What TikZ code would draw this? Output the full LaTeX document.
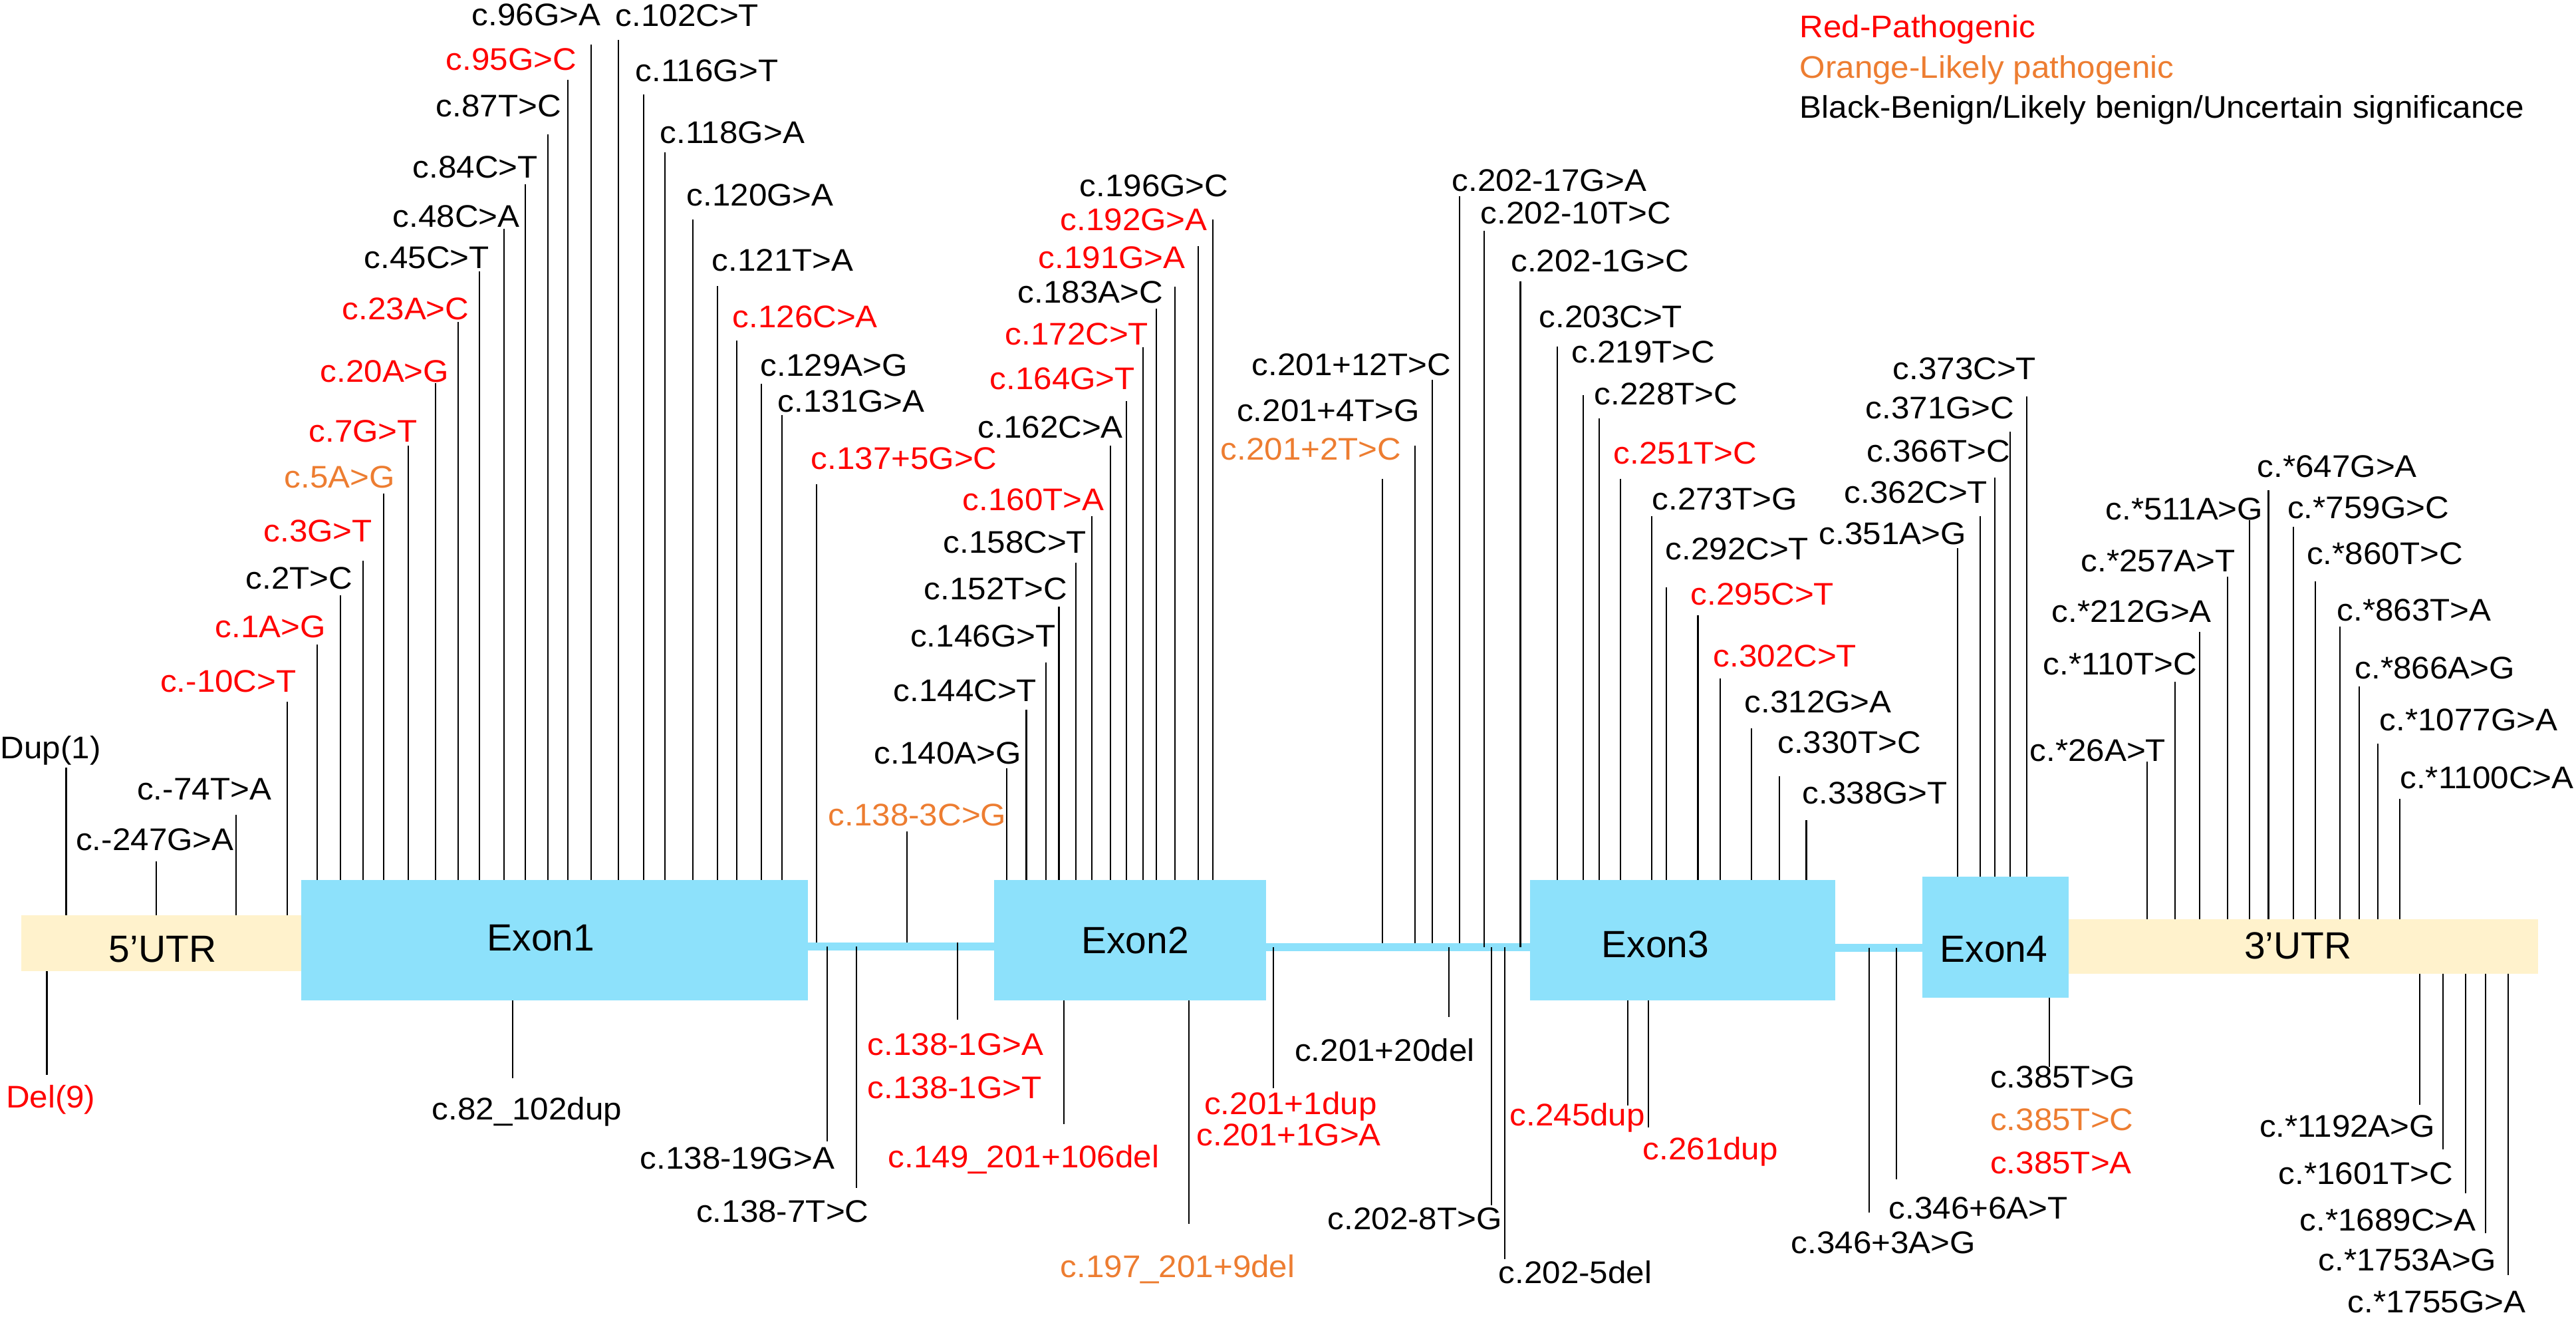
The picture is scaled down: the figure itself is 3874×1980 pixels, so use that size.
\documentclass[tikz,border=0pt]{standalone}
\usepackage{fontspec}
\setmainfont{Liberation Sans}
\newfontfamily\labfont{Liberation Sans}[FakeStretch=1.05]
\definecolor{exonblue}{HTML}{8DE1FB}
\definecolor{utrcream}{HTML}{FFF2CC}
\definecolor{orng}{HTML}{ED7D31}
\tikzset{
  box/.style={rectangle, draw=none, inner sep=0pt, outer sep=0pt, anchor=north west},
  lbl/.style={font=\labfont\fontsize{13.37pt}{15pt}\selectfont, inner sep=0pt, anchor=base west},
  exlbl/.style={font=\fontsize{16.2pt}{18pt}\selectfont, inner sep=0pt, anchor=base},
  vline/.style={line width=0.6pt, line cap=butt},
}
\begin{document}
\begin{tikzpicture}[x=0.01cm, y=-0.01cm]
\useasboundingbox (0,0) rectangle (3874,1980);
% gene structure
\node[box, fill=utrcream, minimum width=4.245cm, minimum height=0.84cm] (utr5) at (31.5,1376) {};
\node[box, fill=exonblue, minimum width=7.62cm, minimum height=1.81cm] (ex1) at (453,1323) {};
\node[box, fill=exonblue, minimum width=2.90cm, minimum height=0.12cm] (in1) at (1210,1417) {};
\node[box, fill=exonblue, minimum width=4.09cm, minimum height=1.81cm] (ex2) at (1495,1323) {};
\node[box, fill=exonblue, minimum width=4.07cm, minimum height=0.12cm] (in2) at (1900,1418) {};
\node[box, fill=exonblue, minimum width=4.59cm, minimum height=1.81cm] (ex3) at (2301,1323) {};
\node[box, fill=exonblue, minimum width=1.41cm, minimum height=0.12cm] (in3) at (2755,1419) {};
\node[box, fill=exonblue, minimum width=2.20cm, minimum height=1.82cm] (ex4) at (2891,1318) {};
\node[box, fill=utrcream, minimum width=7.06cm, minimum height=0.82cm] (utr3) at (3111,1382) {};
\node[exlbl] (lb5) at (244.5,1447) {5’UTR};
\node[exlbl] (lbe1) at (813.5,1430) {Exon1};
\node[exlbl] (lbe2) at (1707,1434) {Exon2};
\node[exlbl] (lbe3) at (2489.5,1440) {Exon3};
\node[exlbl] (lbe4) at (2998.5,1447) {Exon4};
\node[exlbl] (lb3) at (3456,1442) {3’UTR};
% variants above the gene
\foreach \x/\yt/\lx/\ly/\col/\tgt/\txt [count=\i] in {
  99.5/1154/0/1141/black/utr5.north/Dup(1),
  235/1295/113.6/1279/black/utr5.north/c.-247G>A,
  355/1225/205.6/1203/black/utr5.north/c.-74T>A,
  432/1055/240.5/1040.6/red/utr5.north/c.-10C>T,
  477/969/323/959/red/ex1.north/c.1A>G,
  512/895/369/886/black/ex1.north/c.2T>C,
  546/843/396/815/red/ex1.north/c.3G>T,
  577/742/427/734/orng/ex1.north/c.5A>G,
  614/670/464/665/red/ex1.north/c.7G>T,
  655/576/481/575/red/ex1.north/c.20A>G,
  689/484/514/481/red/ex1.north/c.23A>C,
  721/408/547/404/black/ex1.north/c.45C>T,
  758/344/590/341.5/black/ex1.north/c.48C>A,
  790/277/620/268/black/ex1.north/c.84C>T,
  824/202/655/176/black/ex1.north/c.87T>C,
  854/120/670/106/red/ex1.north/c.95G>C,
  889/67/709/39/black/ex1.north/c.96G>A,
  930/60/925/40/black/ex1.north/c.102C>T,
  968/142/955/123/black/ex1.north/c.116G>T,
  1000/229/992/216/black/ex1.north/c.118G>A,
  1042/330/1032/310/black/ex1.north/c.120G>A,
  1079/430/1070/408/black/ex1.north/c.121T>A,
  1108/512/1101/493/red/ex1.north/c.126C>A,
  1145/577/1143/566/black/ex1.north/c.129A>G,
  1176/624/1169/620/black/ex1.north/c.131G>A,
  1228/728/1219/706/red/in1.north/c.137+5G>C,
  1364/1250/1245/1241.5/orng/in1.north/c.138-3C>G,
  1514/1155/1314/1149/black/ex2.north/c.140A>G,
  1543.5/1067/1343/1055/black/ex2.north/c.144C>T,
  1572.6/996/1368.6/973/black/ex2.north/c.146G>T,
  1592.5/912.5/1389/902/black/ex2.north/c.152T>C,
  1618/846/1418/832/black/ex2.north/c.158C>T,
  1642/776/1447/768/red/ex2.north/c.160T>A,
  1669.6/670/1470/658.5/black/ex2.north/c.162C>A,
  1693.6/603/1488/585.7/red/ex2.north/c.164G>T,
  1719/522/1511/519/red/ex2.north/c.172C>T,
  1739/464/1530/456/black/ex2.north/c.183A>C,
  1766.6/431/1561/404/red/ex2.north/c.191G>A,
  1802/370/1594/347/red/ex2.north/c.192G>A,
  1824/330/1623/295.5/black/ex2.north/c.196G>C,
  2079/720.5/1835/692/orng/in2.north/c.201+2T>C,
  2128/670/1859.5/634/black/in2.north/c.201+4T>G,
  2154/571/1882/565/black/in2.north/c.201+12T>C,
  2195/295/2183/288/black/in2.north/c.202-17G>A,
  2232/347/2226/337/black/in2.center/c.202-10T>C,
  2286.5/423/2271.6/408.5/black/in2.center/c.202-1G>C,
  2342/521/2314/493/black/ex3.north/c.203C>T,
  2381/594/2363/545.5/black/ex3.north/c.219T>C,
  2405/629/2397/609/black/ex3.north/c.228T>C,
  2437/720/2426/698/red/ex3.north/c.251T>C,
  2484/776/2484/767/black/ex3.north/c.273T>G,
  2506/883/2504/842/black/ex3.north/c.292C>T,
  2553.5/925/2542/910/red/ex3.north/c.295C>T,
  2587/1020/2576/1003/red/ex3.north/c.302C>T,
  2634/1095/2623/1072/black/ex3.north/c.312G>A,
  2676/1167/2672.6/1133/black/ex3.north/c.330T>C,
  2716.5/1233/2710/1209/black/ex3.north/c.338G>T,
  2944/824/2735/818.7/black/ex4.north/c.351A>G,
  2977.6/776/2773/757/black/ex4.north/c.362C>T,
  2999.6/718/2807/694.6/black/ex4.north/c.366T>C,
  3023/649.5/2805/630/black/ex4.north/c.371G>C,
  3048/596/2846/571/black/ex4.north/c.373C>T,
  3229/1145.5/3052/1144.6/black/utr3.north/c.*26A>T,
  3271/1025/3072/1015/black/utr3.north/c.*110T>C,
  3308/950/3085/935.7/black/utr3.north/c.*212G>A,
  3350/867/3129/860/black/utr3.north/c.*257A>T,
  3382.6/782/3166/781.7/black/utr3.north/c.*511A>G,
  3411.5/737/3394/718/black/utr3.north/c.*647G>A,
  3449/792/3439.5/779.5/black/utr3.north/c.*759G>C,
  3481.6/874.5/3468.5/848.7/black/utr3.north/c.*860T>C,
  3519/942/3514/934/black/utr3.north/c.*863T>A,
  3548/1031.7/3541/1021/black/utr3.north/c.*866A>G,
  3576/1118/3578/1098.7/black/utr3.north/c.*1077G>A,
  3608.7/1201/3608.7/1185.7/black/utr3.north/c.*1100C>A}
{
  \coordinate (t\i) at (\x,\yt);
  \node[lbl, text=\col] (v\i) at (\lx,\ly) {\txt};
  \draw[vline] (t\i) -- (t\i |- \tgt);
}
% variants below the gene
\foreach \x/\yb/\lx/\ly/\col/\src/\txt [count=\i] in {
  70.5/1616/8.3/1666/red/utr5.south/Del(9),
  771/1621/649/1684/black/ex1.south/c.82\_102dup,
  1244/1716/962/1757.5/black/in1.center/c.138-19G>A,
  1288/1786/1046.5/1838/black/in1.center/c.138-7T>C,
  1440/1533/1304/1587/red/in1.north/c.138-1G>A,
  1600/1690/1335/1756/red/ex2.south/c.149\_201+106del,
  1788/1840/1594/1921/orng/ex2.south/c.197\_201+9del,
  1915/1636/1810.5/1676/red/in2.center/c.201+1dup,
  2179/1529/1946.5/1596/black/in2.center/c.201+20del,
  2243/1812/1996/1849/black/in2.center/c.202-8T>G,
  2263/1893/2253/1929/black/in2.center/c.202-5del,
  2448/1662/2270/1692.5/red/ex3.south/c.245dup,
  2479/1695/2470/1744/red/ex3.south/c.261dup,
  2811/1823/2693/1885/black/in3.center/c.346+3A>G,
  2852/1773.5/2840/1832.5/black/in3.center/c.346+6A>T,
  3082/1604/2992.5/1636/black/ex4.south/c.385T>G,
  3639/1661/3397.5/1710/black/utr3.south/c.*1192A>G,
  3674/1728.5/3426/1780.5/black/utr3.south/c.*1601T>C,
  3708/1794/3458/1850/black/utr3.south/c.*1689C>A,
  3738/1854/3486/1910.6/black/utr3.south/c.*1753A>G,
  3772/1917/3530/1974/black/utr3.south/c.*1755G>A}
{
  \coordinate (b\i) at (\x,\yb);
  \node[lbl, text=\col] (w\i) at (\lx,\ly) {\txt};
  \draw[vline] (b\i |- \src) -- (b\i);
}
\node[lbl, text=red] (w138t) at (1304,1652) {c.138-1G>T};
\node[lbl, text=red] (w201a) at (1799,1723) {c.201+1G>A};
\node[lbl, text=orng] (w385c) at (2992.5,1700) {c.385T>C};
\node[lbl, text=red] (w385a) at (2992.5,1765) {c.385T>A};
% legend
\node[lbl, text=red] (lgr) at (2706,57) {Red-Pathogenic};
\node[lbl, text=orng] (lgo) at (2706,118) {Orange-Likely pathogenic};
\node[lbl] (lgb) at (2706,178) {Black-Benign/Likely benign/Uncertain significance};
\end{tikzpicture}
\end{document}
